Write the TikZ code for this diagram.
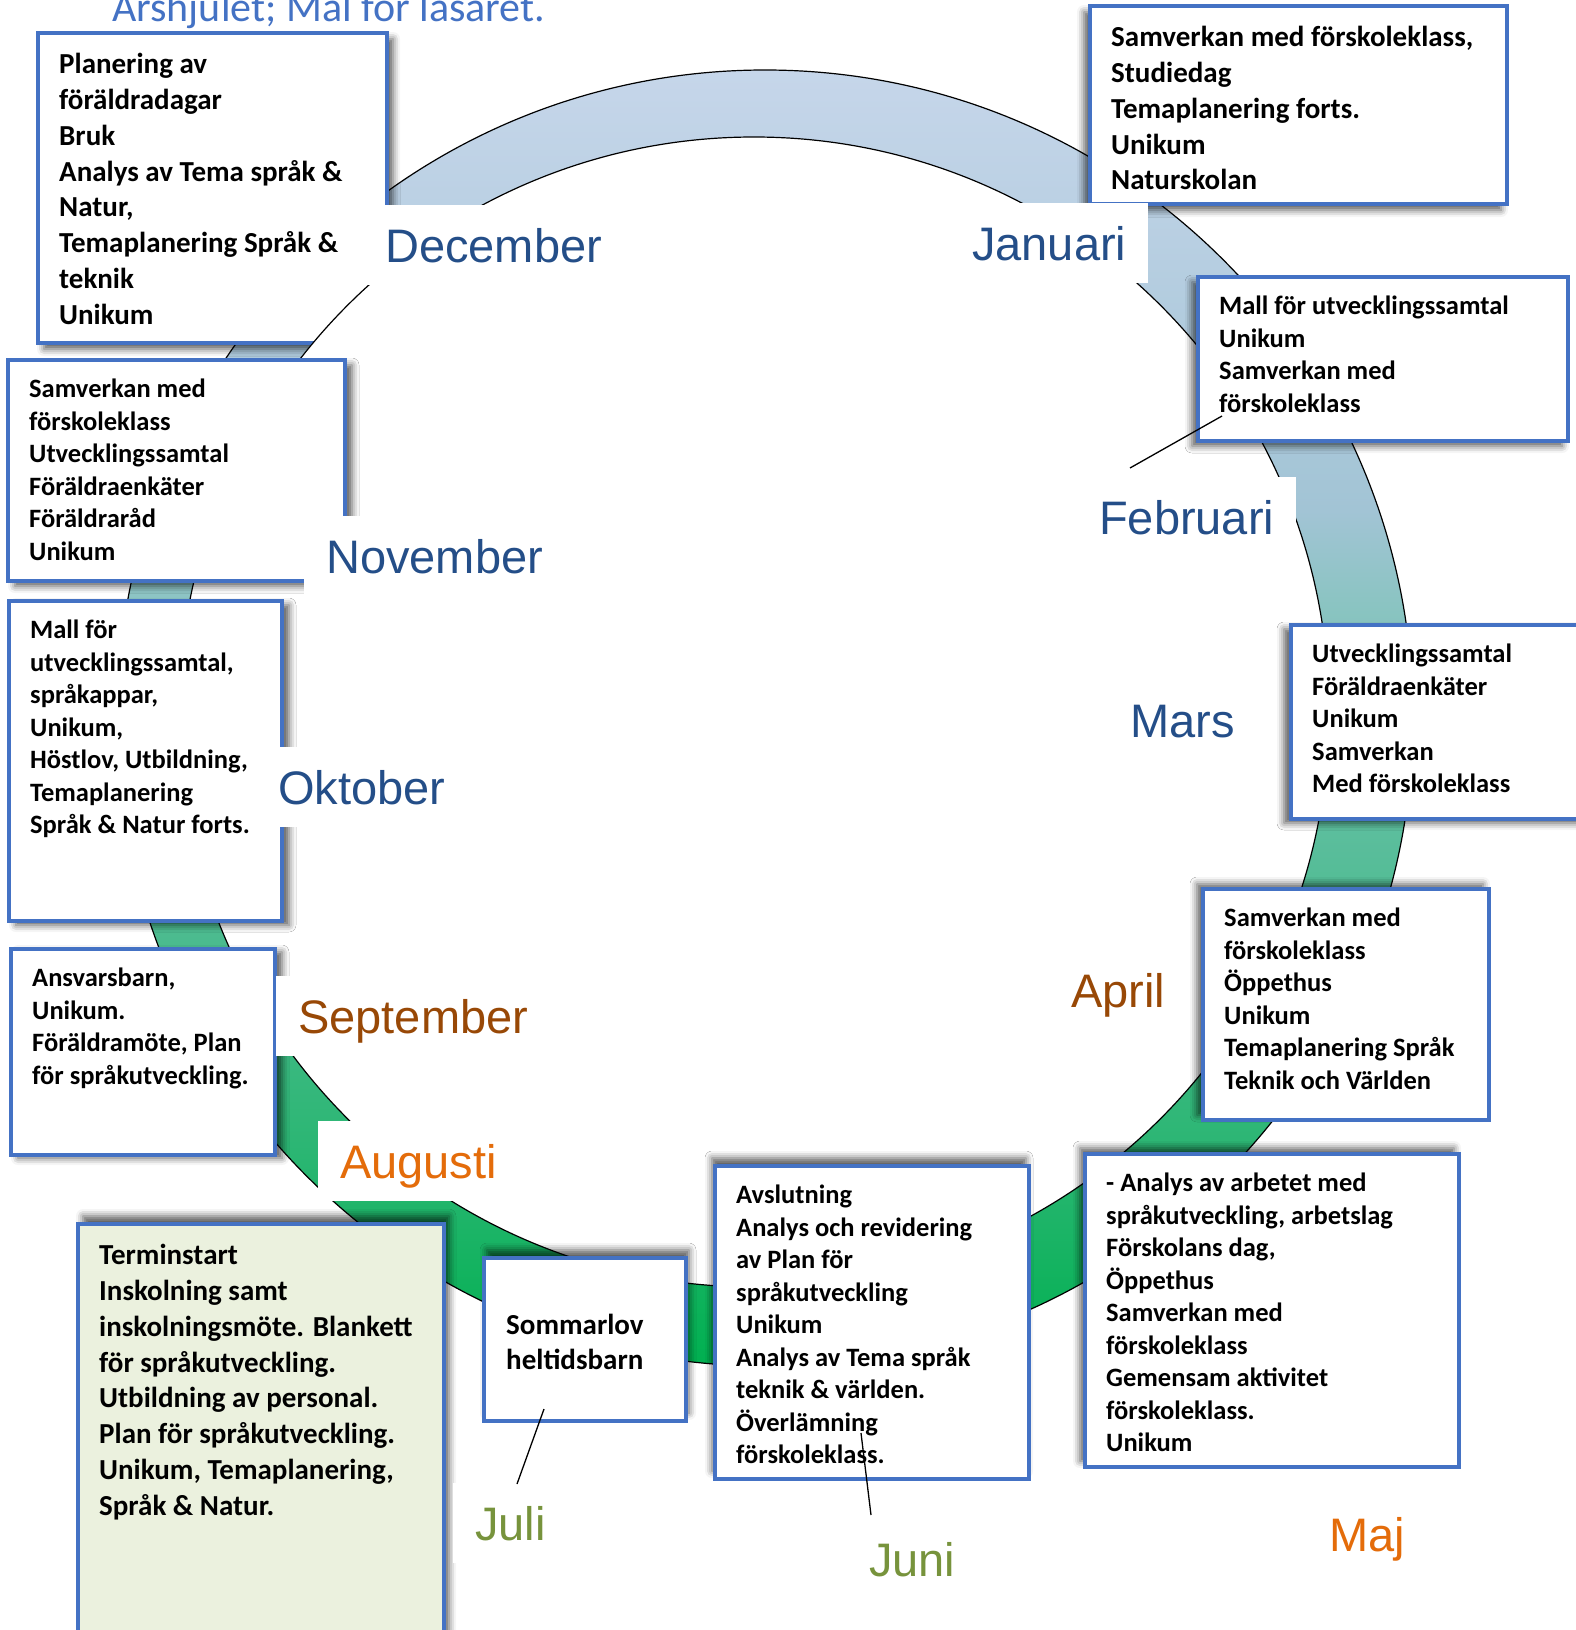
\documentclass[tikz,border=0pt]{standalone}
\usepackage{fontspec}
\setmainfont{Carlito}
\newfontfamily\monthfont{Liberation Sans}
\usetikzlibrary{shadows.blur}

\definecolor{boxblue}{RGB}{68,114,196}
\definecolor{monthblue}{RGB}{36,78,136}
\definecolor{monthbrown}{RGB}{152,72,6}
\definecolor{monthorange}{RGB}{228,108,10}
\definecolor{monthgreen}{RGB}{119,147,60}
\definecolor{augfill}{RGB}{235,241,222}
\definecolor{ringA}{RGB}{0,176,80}
\definecolor{ringB}{RGB}{43,182,115}
\definecolor{ringC}{RGB}{93,190,158}
\definecolor{ringD}{RGB}{140,196,195}
\definecolor{ringE}{RGB}{162,196,213}
\definecolor{ringF}{RGB}{198,214,234}

\pgfdeclareverticalshading{ringshade}{100bp}{color(0bp)=(ringA); color(25bp)=(ringA); color(33.3bp)=(ringB); color(46bp)=(ringC); color(54.6bp)=(ringD); color(58bp)=(ringE); color(75bp)=(ringF); color(100bp)=(ringF)}

\begin{document}
\begin{tikzpicture}[x=1pt, y=-1pt,
        planbox/.style={draw=boxblue, line width=4pt, fill=white, anchor=north west, outer sep=0pt, inner sep=0pt},
        bigtext/.style={anchor=north west, align=left, inner sep=0pt, font=\bfseries\fontsize{29}{35.9}\selectfont},
        smalltext/.style={anchor=north west, align=left, inner sep=0pt, font=\bfseries\fontsize{26.5}{32.5}\selectfont},
        month/.style={anchor=west, fill=white, inner xsep=22pt, inner ysep=0pt, minimum height=80pt, text height=34pt, text depth=0pt, font=\monthfont\fontsize{47}{50}\selectfont},
        boxshadow/.style 2 args={blur shadow={shadow xshift=#1pt, shadow yshift=#2pt, shadow blur radius=7pt, shadow opacity=65}}]
    \useasboundingbox (0,0) rectangle (1576,1630);

    % --- Ring ---
    \shadedraw[shading=ringshade, line width=1.2pt] (765,718) circle (648pt);

    % December box sits under the white centre
    \node[planbox, minimum width=349pt, minimum height=310pt, boxshadow={6}{-6}] (dec) at (38,33) {};
    \node[bigtext] (dectext) at ([shift={(21pt,-15pt)}]dec.north west) {\strut Planering av\\ föräldradagar\\ Bruk\\ Analys av Tema språk \&\\ Natur,\\ Temaplanering Språk \&\\ teknik\\ Unikum};

    % white centre of the ring
    \filldraw[fill=white, line width=1.2pt] (754,712) circle (575pt);

    % --- Boxes ---
    \node[planbox, minimum width=417pt, minimum height=198pt, boxshadow={-6}{-6}] (jan) at (1090,6) {};
    \node[bigtext] (jantext) at ([shift={(21pt,-15pt)}]jan.north west) {\strut Samverkan med förskoleklass,\\ Studiedag\\ Temaplanering forts.\\ Unikum\\ Naturskolan};

    \node[planbox, minimum width=370pt, minimum height=164pt, boxshadow={-6}{-5}] (feb) at (1198,277) {};
    \node[smalltext] (febtext) at ([shift={(21pt,-15pt)}]feb.north west) {\strut Mall för utvecklingssamtal\\ Unikum\\ Samverkan med\\ förskoleklass};

    \node[planbox, minimum width=320pt, minimum height=194pt, boxshadow={-7}{-4}] (mar) at (1291,625) {};
    \node[smalltext] (martext) at ([shift={(21pt,-15pt)}]mar.north west) {\strut Utvecklingssamtal\\ Föräldraenkäter\\ Unikum\\ Samverkan\\ Med förskoleklass};

    \node[planbox, minimum width=286pt, minimum height=231pt, boxshadow={-6}{5}] (apr) at (1203,889) {};
    \node[smalltext] (aprtext) at ([shift={(21pt,-15pt)}]apr.north west) {\strut Samverkan med\\ förskoleklass\\ Öppethus\\ Unikum\\ Temaplanering Språk\\ Teknik och Världen};

    \node[planbox, minimum width=374pt, minimum height=313pt, boxshadow={-5}{6}] (maj) at (1085,1154) {};
    \node[smalltext] (majtext) at ([shift={(21pt,-15pt)}]maj.north west) {\strut - Analys av arbetet med\\ språkutveckling, arbetslag\\ Förskolans dag,\\ Öppethus\\ Samverkan med\\ förskoleklass\\ Gemensam aktivitet\\ förskoleklass.\\ Unikum};

    \node[planbox, minimum width=314pt, minimum height=313pt, boxshadow={-3}{8}] (jun) at (715,1166) {};
    \node[smalltext] (juntext) at ([shift={(21pt,-15pt)}]jun.north west) {\strut Avslutning\\ Analys och revidering\\ av Plan för\\ språkutveckling\\ Unikum\\ Analys av Tema språk\\ teknik \& världen.\\ Överlämning\\ förskoleklass.};

    \node[planbox, minimum width=202pt, minimum height=163pt, boxshadow={3}{8}] (jul) at (484,1258) {};
    \node[bigtext, anchor=west] (jultext) at ([xshift=22pt]jul.west) {\strut Sommarlov\\ heltidsbarn};

    \node[planbox, fill=augfill, minimum width=366pt, minimum height=430pt, boxshadow={5}{8}] (aug) at (78,1224) {};
    \node[bigtext] (augtext) at ([shift={(21pt,-15pt)}]aug.north west) {\strut Terminstart\\ Inskolning samt\\ inskolningsmöte. Blankett\\ för språkutveckling.\\ Utbildning av personal.\\ Plan för språkutveckling.\\ Unikum, Temaplanering,\\ Språk \& Natur.};

    \node[planbox, minimum width=264pt, minimum height=206pt, boxshadow={7}{-3}] (sep) at (11,949) {};
    \node[smalltext] (septext) at ([shift={(21pt,-15pt)}]sep.north west) {\strut Ansvarsbarn,\\ Unikum.\\ Föräldramöte, Plan\\ för språkutveckling.};

    \node[planbox, minimum width=273pt, minimum height=320pt, boxshadow={7}{-4}] (okt) at (9,601) {};
    \node[smalltext] (okttext) at ([shift={(21pt,-15pt)}]okt.north west) {\strut Mall för\\ utvecklingssamtal,\\ språkappar,\\ Unikum,\\ Höstlov, Utbildning,\\ Temaplanering\\ Språk \& Natur forts.};

    \node[planbox, minimum width=337pt, minimum height=221pt, boxshadow={7}{-5}] (nov) at (8,360) {};
    \node[smalltext] (novtext) at ([shift={(21pt,-15pt)}]nov.north west) {\strut Samverkan med\\ förskoleklass\\ Utvecklingssamtal\\ Föräldraenkäter\\ Föräldraråd\\ Unikum};

    % --- Month labels ---
    \node[month, text=monthblue] (declabel) at (363,245) {December};
    \node[month, text=monthblue] (janlabel) at (950,243) {Januari};
    \node[month, text=monthblue] (feblabel) at (1077,517) {Februari};
    \node[month, text=monthblue] (marlabel) at (1108,720) {Mars};
    \node[month, text=monthbrown] (aprlabel) at (1049,990) {April};
    \node[month, text=monthorange] (majlabel) at (1307,1534) {Maj};
    \node[month, text=monthgreen] (junlabel) at (847,1559) {Juni};
    \node[month, text=monthgreen] (jullabel) at (453,1523) {Juli};
    \node[month, text=monthorange] (auglabel) at (318,1161) {Augusti};
    \node[month, text=monthbrown] (seplabel) at (276,1016) {September};
    \node[month, text=monthblue] (oktlabel) at (256,787) {Oktober};
    \node[month, text=monthblue] (novlabel) at (304,556) {November};

    % callout lines
    \coordinate (febfrom) at (1222,416);
    \coordinate (febto) at (1130,468);
    \coordinate (julfrom) at (544,1409);
    \coordinate (julto) at (517,1484);
    \coordinate (junfrom) at (861,1433);
    \coordinate (junto) at (871,1515);
    \draw[line width=1.3pt] (febfrom) -- (febto);
    \draw[line width=1.3pt] (julfrom) -- (julto);
    \draw[line width=1.3pt] (junfrom) -- (junto);

    % title, cut by the top edge
    \node[anchor=base west, inner sep=0pt, text=boxblue, font=\fontsize{42}{50}\selectfont] (title) at (112,21) {Årshjulet; Mål för läsåret.};
\end{tikzpicture}
\end{document}
